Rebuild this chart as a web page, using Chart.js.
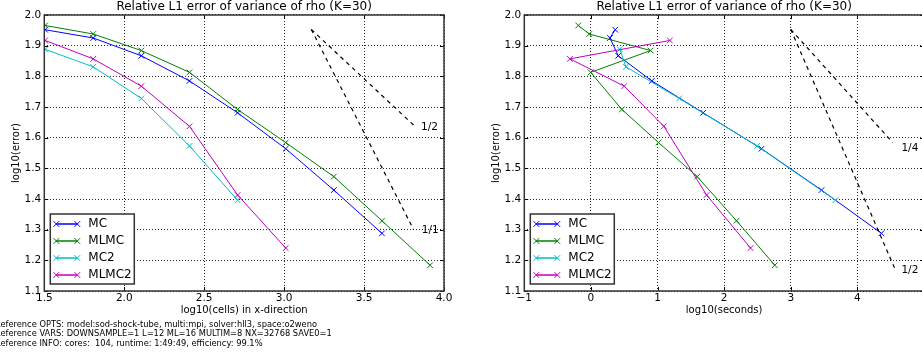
<!DOCTYPE html>
<html>
<head>
<meta charset="utf-8">
<title>Relative L1 error of variance of rho</title>
<script src="https://cdn.jsdelivr.net/npm/chart.js@4.4.1/dist/chart.umd.min.js"></script>
<style>
  html, body { margin: 0; padding: 0; background: #fff; width: 922px; height: 355px; overflow: hidden; position: relative; }
  canvas { position: absolute; top: 0; }
  #cellsChart { left: 0; }
  #timeChart { left: 480px; }
  .info {
    position: absolute; left: -5px; top: 319.5px;
    font-family: 'DejaVu Sans', sans-serif; font-size: 8.3px; line-height: 9.7px;
    color: #000; white-space: pre;
  }
</style>
</head>
<body>
<canvas id="cellsChart" width="461" height="322"></canvas>
<canvas id="timeChart" width="461" height="322"></canvas>
<div class="info"><div>Reference OPTS: model:sod-shock-tube, multi:mpi, solver:hll3, space:o2weno</div><div>Reference VARS: DOWNSAMPLE=1 L=12 ML=16 MULTIM=8 NX=32768 SAVE0=1</div><div>Reference INFO: cores:  104, runtime: 1:49:49, efficiency: 99.1%</div></div>
<script>
// ---- data ----
const chartTitle = 'Relative L1 error of variance of rho (K=30)';
const seriesNames = ['MC', 'MLMC', 'MC2', 'MLMC2'];
const seriesColors = ['#0000ff', '#008000', '#00bfbf', '#bf00bf'];

// log10 of cells in x-direction
const cellsMC    = [1.505, 1.806, 2.107, 2.408, 2.709, 3.010, 3.311, 3.612];
const cellsMLMC  = [1.505, 1.806, 2.107, 2.408, 2.709, 3.010, 3.311, 3.612, 3.913];
const cellsMC2   = [1.505, 1.806, 2.107, 2.408, 2.709];
const cellsMLMC2 = [1.505, 1.806, 2.107, 2.408, 2.709, 3.010];

// log10 of runtime in seconds
const timeMC    = [0.365, 0.286, 0.410, 0.915, 1.685, 2.561, 3.461, 4.361];
const timeMLMC  = [-0.190, -0.025, 0.896, -0.004, 0.465, 1.015, 1.595, 2.186, 2.760];
const timeMC2   = [0.435, 0.525, 1.325, 2.495, 3.670];
const timeMLMC2 = [1.185, -0.315, 0.500, 1.095, 1.736, 2.396];

// log10 of relative L1 error
const errMC    = [1.952, 1.925, 1.867, 1.785, 1.681, 1.564, 1.429, 1.288];
const errMLMC  = [1.966, 1.938, 1.884, 1.813, 1.692, 1.584, 1.473, 1.329, 1.184];
const errMC2   = [1.888, 1.831, 1.728, 1.573, 1.396];
const errMLMC2 = [1.917, 1.857, 1.768, 1.637, 1.413, 1.240];

// convergence-rate guide lines
const guideCellsX   = [3.17, 3.82];
const guideCellsHalf = [1.953, 1.636];
const guideCellsX1  = [3.17, 3.81];
const guideCellsOne = [1.953, 1.300];
const guideTimeX    = [3.00, 4.53];
const guideTimeQuarter = [1.953, 1.584];
const guideTimeX2   = [3.00, 4.56];
const guideTimeHalf = [1.953, 1.174];
const guideLabels = ['1/2', '1/1', '1/4', '1/2'];
const guideLabelX = [3.856, 3.861, 4.661, 4.661];
const guideLabelY = [1.633, 1.299, 1.565, 1.166];

// axis ticks
const errTicks   = [1.1, 1.2, 1.3, 1.4, 1.5, 1.6, 1.7, 1.8, 1.9, 2.0];
const cellsTicks = [1.5, 2.0, 2.5, 3.0, 3.5, 4.0];
const timeTicks  = [-1, 0, 1, 2, 3, 4, 5];

// ---- drawing ----
Chart.defaults.font.family = "'DejaVu Sans', sans-serif";
Chart.defaults.color = '#000';
Chart.defaults.animation = false;

const FONT = "'DejaVu Sans', sans-serif";
const MARK = 4;

// matplotlib-like frame with inward ticks
const framePlugin = {
  id: 'frame',
  afterDatasetsDraw(chart) {
    const { ctx, chartArea: a, scales } = chart;
    ctx.save();
    ctx.strokeStyle = '#000';
    ctx.lineWidth = 1;
    ctx.beginPath();
    scales.x.ticks.forEach(t => {
      const px = Math.round(scales.x.getPixelForValue(t.value)) + 0.5;
      ctx.moveTo(px, a.bottom); ctx.lineTo(px, a.bottom - 4);
      ctx.moveTo(px, a.top); ctx.lineTo(px, a.top + 4);
    });
    scales.y.ticks.forEach(t => {
      const py = Math.round(scales.y.getPixelForValue(t.value)) + 0.5;
      ctx.moveTo(a.left, py); ctx.lineTo(a.left + 4, py);
      ctx.moveTo(a.right, py); ctx.lineTo(a.right - 4, py);
    });
    ctx.stroke();
    ctx.strokeStyle = '#333';
    ctx.lineWidth = 1.5;
    ctx.strokeRect(a.left, a.top, a.right - a.left, a.bottom - a.top);
    ctx.restore();
  }
};

// text labels next to the guide lines
const notesPlugin = {
  id: 'slopeNotes',
  afterDatasetsDraw(chart, args, opts) {
    const { ctx, scales } = chart;
    ctx.save();
    ctx.font = '10.5px ' + FONT;
    ctx.fillStyle = '#000';
    ctx.textAlign = 'left';
    ctx.textBaseline = 'middle';
    (opts.items || []).forEach(n => {
      ctx.fillText(n.text, scales.x.getPixelForValue(n.x), scales.y.getPixelForValue(n.y));
    });
    ctx.restore();
  }
};

// boxed legend in the lower-left corner of the plot
const boxLegendPlugin = {
  id: 'boxLegend',
  afterDatasetsDraw(chart) {
    const { ctx, chartArea: a } = chart;
    const items = chart.data.datasets.filter(d => seriesNames.includes(d.label));
    const w = 84, rowH = 17, h = 70;
    const x0 = a.left + 6, y0 = a.bottom - 7 - h;
    ctx.save();
    ctx.fillStyle = '#fff';
    ctx.fillRect(x0, y0, w, h);
    ctx.strokeStyle = '#333';
    ctx.lineWidth = 1.5;
    ctx.strokeRect(x0, y0, w, h);
    ctx.font = '12px ' + FONT;
    ctx.textBaseline = 'middle';
    ctx.textAlign = 'left';
    items.forEach((d, i) => {
      const cy = y0 + 10 + i * rowH;
      const xa = x0 + 6, xb = x0 + 27;
      ctx.strokeStyle = d.borderColor;
      ctx.lineWidth = 1.5;
      ctx.beginPath(); ctx.moveTo(xa, cy); ctx.lineTo(xb, cy); ctx.stroke();
      ctx.lineWidth = 1;
      Chart.helpers.drawPoint(ctx, { pointStyle: 'crossRot', radius: MARK, borderWidth: 1, rotation: 0 }, xa, cy);
      Chart.helpers.drawPoint(ctx, { pointStyle: 'crossRot', radius: MARK, borderWidth: 1, rotation: 0 }, xb, cy);
      ctx.fillStyle = '#000';
      ctx.fillText(d.label, x0 + 38, cy);
    });
    ctx.restore();
  }
};

function seriesDatasets(xLists) {
  const yLists = [errMC, errMLMC, errMC2, errMLMC2];
  return seriesNames.map((name, i) => ({
    label: name,
    data: xLists[i].map((x, j) => ({ x: x, y: yLists[i][j] })),
    borderColor: seriesColors[i],
    backgroundColor: seriesColors[i],
    borderWidth: 1,
    pointStyle: 'crossRot',
    pointRadius: MARK,
    pointBorderWidth: 1,
    pointBorderColor: seriesColors[i],
    pointHoverRadius: MARK,
    fill: false,
    tension: 0,
    order: seriesNames.length - i
  }));
}

function guideDataset(label, xs, ys) {
  return {
    label: label,
    data: xs.map((x, j) => ({ x: x, y: ys[j] })),
    borderColor: '#000',
    borderWidth: 1.2,
    borderDash: [4, 4],
    pointRadius: 0,
    fill: false,
    order: 0
  };
}

function axisTicks(values) {
  return function (scale) { scale.ticks = values.map(v => ({ value: v })); };
}

function makeChart(id, datasets, xTicks, xMin, xMax, xTitle, xFormat, notes) {
  return new Chart(document.getElementById(id), {
    type: 'line',
    data: { datasets: datasets },
    options: {
      responsive: false,
      animation: false,
      events: [],
      layout: { padding: { left: 0, right: 17, top: 0, bottom: 0 } },
      plugins: {
        legend: { display: false },
        tooltip: { enabled: false },
        title: {
          display: true, text: chartTitle, fullSize: false,
          font: { size: 12, weight: 'normal', family: FONT },
          color: '#000', padding: { top: 0, bottom: 0.6 }
        },
        slopeNotes: { items: notes }
      },
      scales: {
        x: {
          type: 'linear', min: xMin, max: xMax,
          afterBuildTicks: axisTicks(xTicks),
          afterFit(s) { s.height = 31; },
          grid: { color: 'rgba(0,0,0,0.85)', lineWidth: 1, drawTicks: false },
          border: { display: false, dash: [1, 2] },
          ticks: { padding: 1, font: { size: 10.5 }, color: '#000', maxRotation: 0, autoSkip: false, callback: xFormat },
          title: { display: true, text: xTitle, font: { size: 10 }, color: '#000', padding: { top: 0, bottom: 6 } }
        },
        y: {
          type: 'linear', min: 1.1, max: 2.0,
          afterBuildTicks: axisTicks(errTicks),
          afterFit(s) { s.width = 44.3; },
          grid: { color: 'rgba(0,0,0,0.85)', lineWidth: 1, drawTicks: false },
          border: { display: false, dash: [1, 2] },
          ticks: { padding: 3, font: { size: 10.5 }, color: '#000', autoSkip: false, callback: v => v.toFixed(1) },
          title: { display: true, text: 'log10(error)', font: { size: 10 }, color: '#000', padding: { top: 10, bottom: 0 } }
        }
      }
    },
    plugins: [framePlugin, notesPlugin, boxLegendPlugin]
  });
}

const cellsSets = seriesDatasets([cellsMC, cellsMLMC, cellsMC2, cellsMLMC2]);
cellsSets.push(guideDataset('rate 1/2', guideCellsX, guideCellsHalf));
cellsSets.push(guideDataset('rate 1/1', guideCellsX1, guideCellsOne));

const timeSets = seriesDatasets([timeMC, timeMLMC, timeMC2, timeMLMC2]);
timeSets.push(guideDataset('rate 1/4', guideTimeX, guideTimeQuarter));
timeSets.push(guideDataset('rate 1/2', guideTimeX2, guideTimeHalf));

makeChart('cellsChart', cellsSets, cellsTicks, 1.5, 4.0,
  'log10(cells) in x-direction', v => v.toFixed(1),
  [0, 1].map(i => ({ text: guideLabels[i], x: guideLabelX[i], y: guideLabelY[i] })));

makeChart('timeChart', timeSets, timeTicks, -1, 5,
  'log10(seconds)', v => (v === 5 ? '' : (v < 0 ? '\u2212' + Math.abs(v) : String(v))),
  [2, 3].map(i => ({ text: guideLabels[i], x: guideLabelX[i], y: guideLabelY[i] })));
</script>
</body>
</html>
